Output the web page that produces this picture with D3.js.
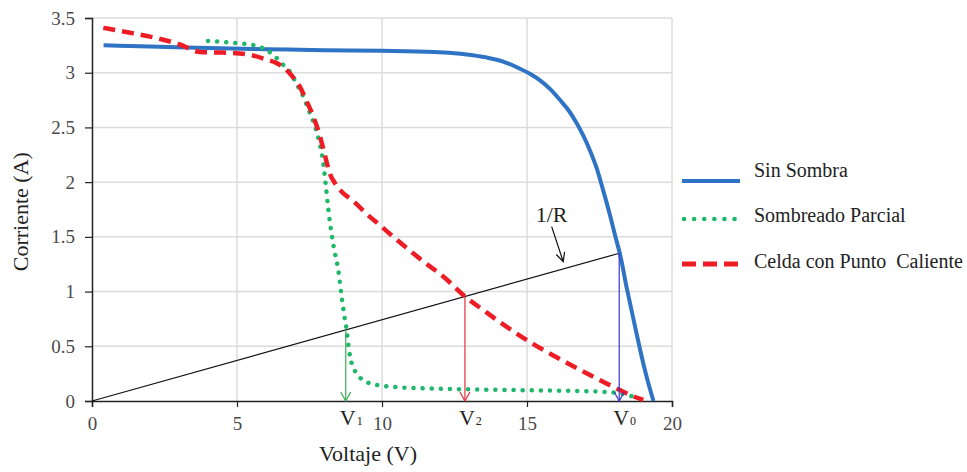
<!DOCTYPE html>
<html><head><meta charset="utf-8">
<script src="https://cdn.jsdelivr.net/npm/d3@7/dist/d3.min.js"></script>
<style>body{margin:0;background:#fff}svg{display:block}</style>
</head><body><svg id="c" width="967" height="472"></svg>
<script>
const FONT="'Liberation Serif', Tinos, 'Times New Roman', Times, 'DejaVu Serif', serif";
const xTicks=[0,5,10,15,20];
const yTicks=[0,0.5,1,1.5,2,2.5,3,3.5];
const yTickLabels=["0","0.5","1","1.5","2","2.5","3","3.5"];
const seriesNames=["Sin Sombra","Sombreado Parcial","Celda con Punto\u00a0 Caliente"];
const blueV=[0.4,2,4,6,8,10,11.8,12.8,13.6,14.2,14.65,15.1,15.45,15.8,16.14,16.45,16.71,16.95,17.17,17.4,17.6,17.86,18.05,18.2,18.45,18.75,19.05,19.25,19.36];
const blueI=[3.25,3.24,3.225,3.215,3.205,3.2,3.19,3.17,3.14,3.1,3.05,2.99,2.93,2.85,2.75,2.65,2.54,2.42,2.29,2.13,1.95,1.7,1.5,1.35,1.02,0.65,0.3,0.1,0];
const greenV=[4.0,5.0,5.6,6.0,6.3,6.6,6.85,7.05,7.29,7.5,7.69,7.85,7.95,8.05,8.15,8.26,8.37,8.49,8.6,8.7,8.78,8.86,8.95,9.1,9.35,9.6,10.0,10.6,11.5,12.9,14.5,16.0,17.5,18.2,18.66,19.0];
const greenI=[3.29,3.27,3.25,3.21,3.15,3.07,3.0,2.9,2.78,2.64,2.51,2.35,2.22,2.0,1.75,1.53,1.36,1.2,0.97,0.78,0.65,0.47,0.35,0.26,0.19,0.16,0.14,0.125,0.115,0.107,0.1,0.095,0.085,0.07,0.04,0.01];
const redV=[0.39,1.0,2.0,3.0,3.72,4.3,4.87,5.5,6.02,6.35,6.6,6.9,7.17,7.4,7.63,7.86,8.0,8.2,8.4,8.66,9.0,9.47,10.0,10.39,11.31,12.23,12.86,13.5,14.07,15.22,16.37,17.52,18.2,18.6,19.01];
const redI=[3.41,3.38,3.33,3.26,3.19,3.185,3.18,3.16,3.12,3.09,3.05,2.97,2.87,2.74,2.6,2.42,2.28,2.08,1.98,1.9,1.83,1.71,1.59,1.5,1.3,1.11,0.955,0.83,0.72,0.52,0.35,0.19,0.1,0.05,0.01];
const opV=[8.75,12.86,18.18];
const opI=[0.65,0.955,1.35];
const opLabels=["V","V","V"];
const opSubs=["1","2","0"];

const svg=d3.select("#c");
const x=d3.scaleLinear([0,20],[92,672]);
const y=d3.scaleLinear([0,3.5],[401,18]);
const colors=["#2f73c4","#1fb86a","#ee1c25"];
const arrowColors=["#3aae4f","#e0303c","#3a35c8"];

svg.append("g").selectAll("line").data(xTicks.filter(d=>d>0)).join("line")
 .attr("x1",d=>x(d)).attr("x2",d=>x(d)).attr("y1",y(3.5)).attr("y2",y(0))
 .attr("stroke","#dcdcdc").attr("stroke-width",1.5);
svg.append("g").selectAll("line").data(yTicks.filter(d=>d>0)).join("line")
 .attr("y1",d=>y(d)).attr("y2",d=>y(d)).attr("x1",x(0)).attr("x2",x(20))
 .attr("stroke","#dcdcdc").attr("stroke-width",1.5);

const gx=svg.append("g").attr("transform",`translate(0,${y(0)})`)
 .call(d3.axisBottom(x).tickValues(xTicks).tickSize(6).tickPadding(10).tickFormat(d3.format("d")));
const gy=svg.append("g").attr("transform",`translate(${x(0)},0)`)
 .call(d3.axisLeft(y).tickValues(yTicks).tickSize(7).tickPadding(10).tickFormat((d,i)=>yTickLabels[i]));
[gx,gy].forEach(g=>{
 g.attr("font-family",FONT).attr("font-size",19);
 g.select(".domain").attr("stroke","#222").attr("stroke-width",1.5);
 g.selectAll(".tick line").attr("stroke","#222").attr("stroke-width",1.2);
 g.selectAll(".tick text").attr("fill","#4a4a4a");
});

function txt(sel){return sel.append("text").attr("font-family",FONT).attr("fill","#222");}
txt(svg).attr("x",368).attr("y",461).attr("text-anchor","middle").attr("font-size",22).text("Voltaje (V)");
txt(svg).attr("transform",`translate(28,${y(1.73)}) rotate(-90)`).attr("text-anchor","middle").attr("font-size",22).text("Corriente (A)");

svg.append("line").attr("x1",x(0)).attr("y1",y(0)).attr("x2",x(opV[2])).attr("y2",y(opI[2]))
 .attr("stroke","#111").attr("stroke-width",1.2);

const line=d3.line().x(d=>x(d[0])).y(d=>y(d[1])).curve(d3.curveMonotoneX);
const blue=blueV.map((v,i)=>[v,blueI[i]]);
const green=greenV.map((v,i)=>[v,greenI[i]]);
const red=redV.map((v,i)=>[v,redI[i]]);
svg.append("path").attr("d",line(blue)).attr("fill","none").attr("stroke",colors[0]).attr("stroke-width",4);
svg.append("path").attr("d",line(green)).attr("fill","none").attr("stroke",colors[1]).attr("stroke-width",4.5)
 .attr("stroke-linecap","round").attr("stroke-dasharray","0.1,9");
svg.append("path").attr("d",line(red)).attr("fill","none").attr("stroke",colors[2]).attr("stroke-width",4.5)
 .attr("stroke-dasharray","12,7");

opV.forEach((v,i)=>{
 const g=svg.append("g").attr("stroke",arrowColors[i]).attr("fill","none").attr("stroke-width",1.2);
 g.append("line").attr("x1",x(v)).attr("x2",x(v)).attr("y1",y(opI[i])).attr("y2",y(0));
 g.append("path").attr("d",`M${x(v)-5},${y(0)-9}L${x(v)},${y(0)}L${x(v)+5},${y(0)-9}`);
 const t=txt(svg).attr("x",x(v)-6).attr("y",425).attr("font-size",22);
 t.append("tspan").text(opLabels[i]);
 t.append("tspan").attr("font-size",12).attr("dx",1).text(opSubs[i]);
});

const annV=[15.85,16.25], annI=[1.593,1.273];
txt(svg).attr("x",x(15.85)).attr("y",y(1.64)).attr("text-anchor","middle").attr("font-size",22).text("1/R");
const ax1=x(annV[0]),ay1=y(annI[0]),ax2=x(annV[1]),ay2=y(annI[1]);
const ang=Math.atan2(ay2-ay1,ax2-ax1);
const hl=10, ha=0.45;
svg.append("path").attr("fill","none").attr("stroke","#111").attr("stroke-width",1.2)
 .attr("d",`M${ax1},${ay1}L${ax2},${ay2}M${ax2-hl*Math.cos(ang-ha)},${ay2-hl*Math.sin(ang-ha)}L${ax2},${ay2}L${ax2-hl*Math.cos(ang+ha)},${ay2-hl*Math.sin(ang+ha)}`);

const lg=svg.append("g");
const rowsY=[181,219,264];
const lx1=682,lx2=740;
lg.append("line").attr("x1",lx1).attr("x2",lx2).attr("y1",rowsY[0]).attr("y2",rowsY[0]).attr("stroke",colors[0]).attr("stroke-width",4);
lg.append("line").attr("x1",lx1+2).attr("x2",lx2-4).attr("y1",rowsY[1]).attr("y2",rowsY[1]).attr("stroke",colors[1]).attr("stroke-width",4.5)
 .attr("stroke-linecap","round").attr("stroke-dasharray","0.1,10");
lg.append("line").attr("x1",lx1).attr("x2",lx2).attr("y1",rowsY[2]).attr("y2",rowsY[2]).attr("stroke",colors[2]).attr("stroke-width",5)
 .attr("stroke-dasharray","14,7");
const textY=[177,222,268];
seriesNames.forEach((n,i)=>{
 txt(lg).attr("x",754).attr("y",textY[i]).attr("font-size",20).text(n);
});
</script></body></html>
